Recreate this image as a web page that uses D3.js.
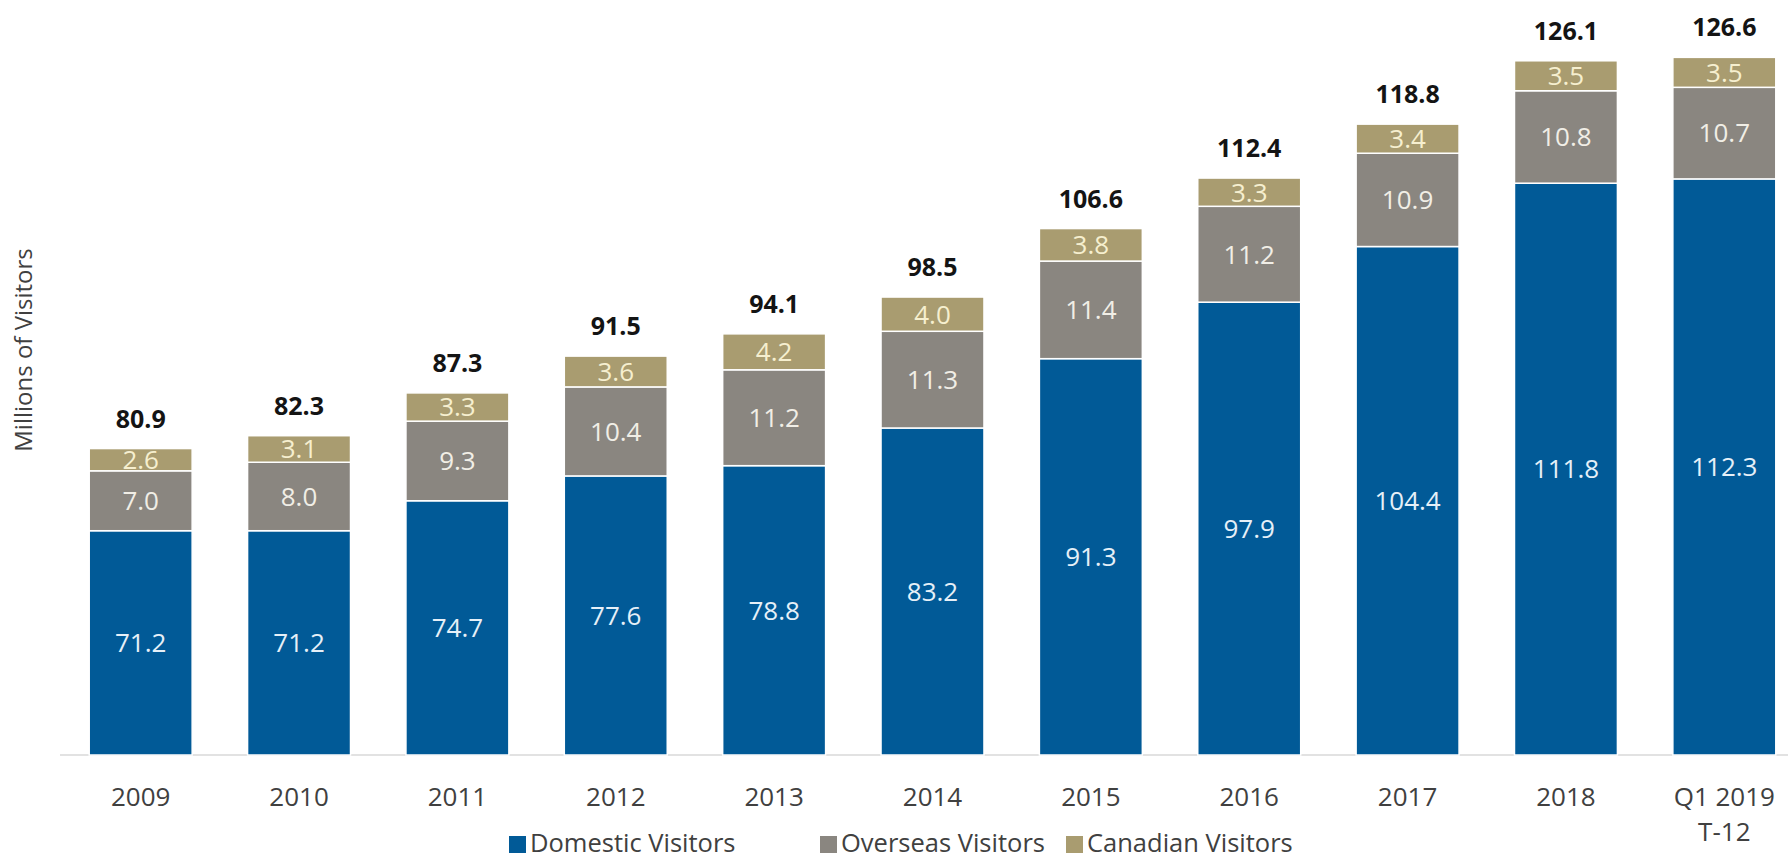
<!DOCTYPE html>
<html>
<head>
<meta charset="utf-8">
<script src="https://cdn.jsdelivr.net/npm/d3@7"></script>
<style>
  body { margin: 0; background: #fff; }
  svg { display: block; font-family: "Open Sans", "Noto Sans", sans-serif; }
</style>
</head>
<body>
<script>
// chart data
var years = ["2009", "2010", "2011", "2012", "2013", "2014", "2015", "2016", "2017", "2018", "Q1 2019|T-12"]
var domestic = [71.2, 71.2, 74.7, 77.6, 78.8, 83.2, 91.3, 97.9, 104.4, 111.8, 112.3]
var overseas = [7.0, 8.0, 9.3, 10.4, 11.2, 11.3, 11.4, 11.2, 10.9, 10.8, 10.7]
var canadian = [2.6, 3.1, 3.3, 3.6, 4.2, 4.0, 3.8, 3.3, 3.4, 3.5, 3.5]
var totals = [80.9, 82.3, 87.3, 91.5, 94.1, 98.5, 106.6, 112.4, 118.8, 126.1, 126.6]
var seriesNames = ["Domestic Visitors", "Overseas Visitors", "Canadian Visitors"]

var colors = ["#015a97", "#8a8680", "#a99c70"]
var labelColors = ["#e6f0f8", "#f1eee6", "#f6efcf"]

var width = 1788, height = 861

var svg = d3.select("body").append("svg")
  .attr("width", width)
  .attr("height", height)

// build rows for the stack
var rows = years.map(function(y, i) {
  return { year: y, dom: domestic[i], ovs: overseas[i], can: canadian[i], total: totals[i] }
})
var stack = d3.stack().keys(["dom", "ovs", "can"])
var layers = stack(rows)

var x = d3.scaleBand()
  .domain(years)
  .range([61.5, 1803.5])
  .paddingInner(0.35)
  .paddingOuter(0.175)

// axis does not start at zero in the original
var y = d3.scaleLinear()
  .domain([45, 130])
  .range([755, 27.4])

// baseline
svg.append("line")
  .attr("x1", 60).attr("x2", width)
  .attr("y1", y(45)).attr("y2", y(45))
  .attr("stroke", "#d9d9d9")
  .attr("stroke-width", 1.5)

// stacked segments
layers.forEach(function(layer, li) {
  svg.append("g").selectAll("rect")
    .data(layer)
    .enter().append("rect")
    .attr("x", function(d) { return x(d.data.year) })
    .attr("width", x.bandwidth())
    .attr("y", function(d) { return y(Math.max(d[1], 45)) })
    .attr("height", function(d) { return y(Math.max(d[0], 45)) - y(Math.max(d[1], 45)) })
    .attr("fill", colors[li])
    .attr("stroke", "#ffffff")
    .attr("stroke-width", 1.5)
})

// values inside segments
layers.forEach(function(layer, li) {
  svg.append("g").selectAll("text")
    .data(layer)
    .enter().append("text")
    .attr("x", function(d) { return x(d.data.year) + x.bandwidth() / 2 })
    .attr("y", function(d) { return (y(Math.max(d[0], 45)) + y(d[1])) / 2 })
    .attr("dy", "0.36em")
    .attr("text-anchor", "middle")
    .style("font-size", "26px")
    .attr("fill", labelColors[li])
    .text(function(d) { return (d[1] - d[0]).toFixed(1) })
})

// totals on top
svg.append("g").selectAll("text")
  .data(rows)
  .enter().append("text")
  .attr("x", function(d) { return x(d.year) + x.bandwidth() / 2 })
  .attr("y", function(d) { return y(d.dom + d.ovs + d.can) - 21 })
  .attr("text-anchor", "middle")
  .style("font-size", "25px")
  .style("font-weight", "bold")
  .attr("fill", "#141414")
  .text(function(d) { return d.total.toFixed(1) })

// category labels
var ticks = svg.append("g").selectAll("text")
  .data(years)
  .enter().append("text")
  .attr("x", function(d) { return x(d) + x.bandwidth() / 2 })
  .attr("y", 806)
  .attr("text-anchor", "middle")
  .style("font-size", "26px")
  .attr("fill", "#404040")

ticks.selectAll("tspan")
  .data(function(d) { return d.split("|") })
  .enter().append("tspan")
  .attr("x", function() { var p = d3.select(this.parentNode).datum(); return x(p) + x.bandwidth() / 2 })
  .attr("dy", function(d, i) { return i == 0 ? 0 : 35 })
  .text(function(d) { return d })

// y axis title
svg.append("text")
  .attr("transform", "translate(32,350) rotate(-90)")
  .attr("text-anchor", "middle")
  .style("font-size", "24px")
  .attr("fill", "#404040")
  .text("Millions of Visitors")

// legend
var legendX = [509, 820, 1066]
var legend = svg.append("g").selectAll("g")
  .data(seriesNames)
  .enter().append("g")
  .attr("transform", function(d, i) { return "translate(" + legendX[i] + ",852)" })

legend.append("rect")
  .attr("x", 0).attr("y", -16)
  .attr("width", 17).attr("height", 17)
  .attr("fill", function(d, i) { return colors[i] })

legend.append("text")
  .attr("x", 21)
  .attr("y", 0)
  .style("font-size", "25.5px")
  .attr("fill", "#404040")
  .text(function(d) { return d })
</script>
</body>
</html>
